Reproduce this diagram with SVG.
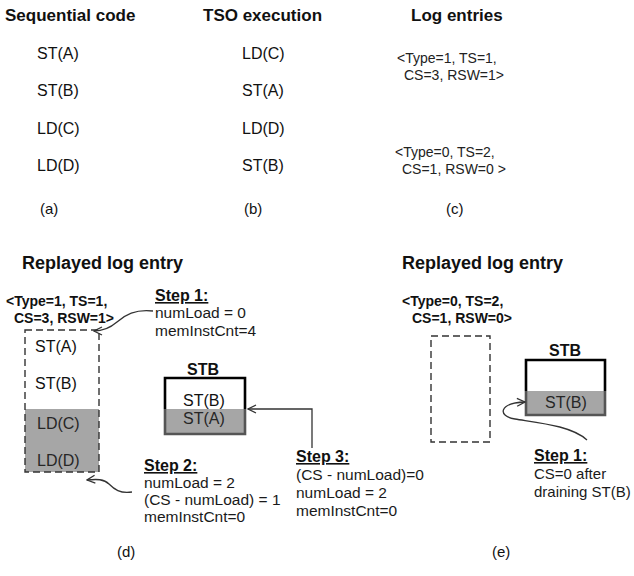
<svg xmlns="http://www.w3.org/2000/svg" width="634" height="576" viewBox="0 0 634 576">
<style>
text{font-family:"Liberation Sans",Arial,sans-serif;fill:#111}
.h{font-size:17px;font-weight:bold}
.h2{font-size:18px;font-weight:bold}
.it{font-size:16px}
.lg{font-size:14px;fill:#222}
.tb{font-size:14px;font-weight:bold}
.st{font-size:15.5px;fill:#1a1a1a}
.sh{font-size:16px;font-weight:bold;text-decoration:underline}
.cap{font-size:15px}
.dash{fill:none;stroke:#333;stroke-width:1.4;stroke-dasharray:7 4}
.grey{fill:#a6a6a6}
.conn{fill:none;stroke:#333;stroke-width:1.3}
</style>
<defs>
<marker id="ah" viewBox="0 0 10 10" refX="9" refY="5" markerWidth="10" markerHeight="10" markerUnits="userSpaceOnUse" orient="auto">
<path d="M1,1 L9,5 L1,9" fill="none" stroke="#333" stroke-width="1.3"/>
</marker>
</defs>

<g id="col-a">
<text class="h" x="5" y="21">Sequential code</text>
<text class="it" x="37" y="59">ST(A)</text>
<text class="it" x="37" y="96">ST(B)</text>
<text class="it" x="37" y="134">LD(C)</text>
<text class="it" x="37" y="171">LD(D)</text>
<text class="cap" x="40" y="214">(a)</text>
</g>

<g id="col-b">
<text class="h" x="203" y="21">TSO execution</text>
<text class="it" x="242" y="59">LD(C)</text>
<text class="it" x="242" y="96">ST(A)</text>
<text class="it" x="242" y="134">LD(D)</text>
<text class="it" x="242" y="171">ST(B)</text>
<text class="cap" x="244" y="214">(b)</text>
</g>

<g id="col-c">
<text class="h" x="411" y="21">Log entries</text>
<text class="lg" x="397" y="63">&lt;Type=1, TS=1,</text>
<text class="lg" x="404" y="80">CS=3, RSW=1&gt;</text>
<text class="lg" x="395" y="157">&lt;Type=0, TS=2,</text>
<text class="lg" x="402" y="174">CS=1, RSW=0 &gt;</text>
<text class="cap" x="446" y="214">(c)</text>
</g>

<g id="panel-d">
<text class="h2" x="22" y="269">Replayed log entry</text>
<text class="tb" x="6" y="306">&lt;Type=1, TS=1,</text>
<text class="tb" x="14" y="323">CS=3, RSW=1&gt;</text>
</g>

<g id="log-box-d">
<rect class="grey" x="25" y="409" width="74" height="63"/>
<rect class="dash" x="25" y="330" width="74" height="142"/>
<text class="it" x="35" y="352">ST(A)</text>
<text class="it" x="35" y="389">ST(B)</text>
<text class="it" x="37" y="429" style="fill:#262626">LD(C)</text>
<text class="it" x="37" y="466" style="fill:#262626">LD(D)</text>
</g>

<g id="stb-d">
<text class="h" x="187" y="375" style="font-size:16px">STB</text>
<rect x="165" y="378" width="80" height="31" fill="#fff"/>
<rect class="grey" x="165" y="409" width="80" height="25"/>
<path d="M165,409 V378 H245 V409" fill="none" stroke="#000" stroke-width="2.6"/>
<path d="M165,409 V434 H245 V409" fill="none" stroke="#555" stroke-width="2.6"/>
<text class="it" x="183" y="406">ST(B)</text>
<text class="it" x="183" y="424" style="fill:#262626">ST(A)</text>
</g>

<g id="step1-d">
<text class="sh" x="155" y="301">Step 1:</text>
<text class="st" x="155" y="318">numLoad = 0</text>
<text class="st" x="155" y="336">memInstCnt=4</text>
</g>

<g id="step2-d">
<text class="sh" x="144" y="471">Step 2:</text>
<text class="st" x="144" y="488">numLoad = 2</text>
<text class="st" x="144" y="505">(CS  -  numLoad) = 1</text>
<text class="st" x="144" y="522">memInstCnt=0</text>
</g>

<g id="step3-d">
<text class="sh" x="296" y="462">Step 3:</text>
<text class="st" x="296" y="480">(CS - numLoad)=0</text>
<text class="st" x="296" y="498">numLoad = 2</text>
<text class="st" x="296" y="516">memInstCnt=0</text>
</g>

<g id="panel-e">
<text class="h2" x="402" y="269">Replayed log entry</text>
<text class="tb" x="402" y="306">&lt;Type=0, TS=2,</text>
<text class="tb" x="412" y="323">CS=1, RSW=0&gt;</text>
</g>

<g id="log-box-e">
<rect class="dash" x="431" y="336" width="59" height="106"/>
</g>

<g id="stb-e">
<text class="h" x="549" y="356" style="font-size:16px">STB</text>
<rect x="526" y="360" width="79" height="31" fill="#fff"/>
<rect class="grey" x="526" y="391" width="79" height="24"/>
<path d="M526,391 V360 H605 V391" fill="none" stroke="#000" stroke-width="2.6"/>
<path d="M526,391 V415 H605 V391" fill="none" stroke="#555" stroke-width="2.6"/>
<text class="it" x="545" y="408" style="fill:#262626">ST(B)</text>
</g>

<g id="step1-e">
<text class="sh" x="534" y="461">Step 1:</text>
<text class="st" x="534" y="479" style="font-size:15px">CS=0 after</text>
<text class="st" x="534" y="497" style="font-size:15px">draining ST(B)</text>
</g>

<g id="labels">
<text class="cap" x="117" y="557">(d)</text>
<text class="cap" x="492" y="557">(e)</text>
</g>

<g id="connectors">
<path class="conn" d="M153,311 C135,309 125,315 117,322 C110,328 104,331 94,331" marker-end="url(#ah)"/>
<path class="conn" d="M132,492 C120,494 114,489 109,484 C104,479 97,479 87,480" marker-end="url(#ah)"/>
<path class="conn" d="M312,448 V409 H248" marker-end="url(#ah)"/>
<path class="conn" d="M587,440 C572,426 540,423 515,419 C497,416 499,403 525,402" marker-end="url(#ah)"/>
</g>
</svg>
